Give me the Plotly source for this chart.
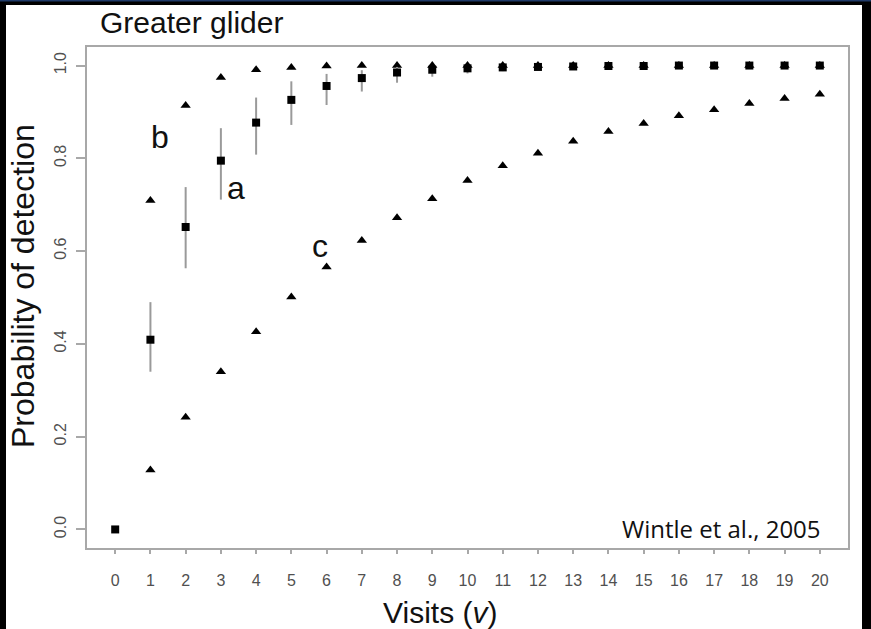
import plotly.graph_objects as go

visits = list(range(0, 21))
visits_tri = list(range(1, 21))

# series a (squares, with interval)
prob_a = [0.0, 0.409, 0.652, 0.795, 0.877, 0.926, 0.956, 0.973, 0.985, 0.991, 0.994,
          0.996, 0.997, 0.998, 0.999, 0.999, 1.0, 1.0, 1.0, 1.0, 1.0]
upper_a = [0.0, 0.490, 0.738, 0.865, 0.931, 0.966, 0.982, 0.990, 0.997, 0.999, 1.0,
           1.0, 1.0, 1.0, 1.0, 1.0, 1.0, 1.0, 1.0, 1.0, 1.0]
lower_a = [0.0, 0.340, 0.563, 0.711, 0.808, 0.872, 0.915, 0.944, 0.963, 0.976, 0.983,
           0.988, 0.992, 0.994, 0.996, 0.997, 0.998, 0.999, 0.999, 1.0, 1.0]
# series b (upper triangles)
prob_b = [0.709, 0.914, 0.974, 0.991, 0.996, 0.999, 1.0, 1.0, 1.0, 1.0,
          1.0, 1.0, 1.0, 1.0, 1.0, 1.0, 1.0, 1.0, 1.0, 1.0]
# series c (lower triangles)
prob_c = [0.128, 0.242, 0.340, 0.426, 0.501, 0.566, 0.623, 0.672, 0.713, 0.752,
          0.784, 0.811, 0.837, 0.858, 0.875, 0.892, 0.905, 0.918, 0.929, 0.938]

x_ticks = list(range(0, 21))
y_ticks = [0.0, 0.2, 0.4, 0.6, 0.8, 1.0]
y_tick_labels = ["0.0", "0.2", "0.4", "0.6", "0.8", "1.0"]

err_plus = [u - p for u, p in zip(upper_a, prob_a)]
err_minus = [p - l for p, l in zip(prob_a, lower_a)]

fig = go.Figure()
fig.add_trace(go.Scatter(
    x=visits_tri, y=prob_b, mode="markers",
    marker=dict(symbol="triangle-up", size=9, color="black"),
    showlegend=False))
fig.add_trace(go.Scatter(
    x=visits_tri, y=prob_c, mode="markers",
    marker=dict(symbol="triangle-up", size=9, color="black"),
    showlegend=False))
fig.add_trace(go.Scatter(
    x=visits, y=prob_a, mode="markers",
    marker=dict(symbol="square", size=8, color="black"),
    error_y=dict(type="data", symmetric=False, array=err_plus, arrayminus=err_minus,
                 color="#9a9a9a", thickness=2, width=0),
    showlegend=False))

FONT = "Liberation Sans, Arial, sans-serif"

# page geometry helpers (paper coords)
L, R, T, B = 87, 23, 47, 81
W, H = 871, 629
PW, PH = W - L - R, H - T - B


def px(xpix):
    return (xpix - L) / PW


def py(ypix):
    return (H - B - ypix) / PH


shapes = [
    dict(type="rect", xref="paper", yref="paper", layer="below",
         x0=px(6), x1=px(862), y0=py(640), y1=py(5),
         fillcolor="white", line=dict(width=0)),
    dict(type="rect", xref="paper", yref="paper", layer="below",
         x0=px(-5), x1=px(880), y0=py(1.5), y1=py(-5),
         fillcolor="#1f3a68", line=dict(width=0)),
]

annotations = [
    dict(text="Greater glider", xref="paper", yref="paper", x=px(98), y=py(22),
         xanchor="left", yanchor="middle", showarrow=False,
         font=dict(family=FONT, size=30, color="#111111")),
    dict(text="Probability of detection", xref="paper", yref="paper", x=px(23), y=py(286),
         xanchor="center", yanchor="middle", textangle=-90, showarrow=False,
         font=dict(family=FONT, size=32, color="#111111")),
    dict(text="Visits (<i>v</i>)", xref="paper", yref="paper", x=px(440), y=py(612),
         xanchor="center", yanchor="middle", showarrow=False,
         font=dict(family=FONT, size=30, color="#111111")),
    dict(text="Wintle et al., 2005", xref="paper", yref="paper", x=px(823), y=py(528),
         xanchor="right", yanchor="middle", showarrow=False,
         font=dict(family="Open Sans, sans-serif", size=24, color="#111111")),
    dict(text="a", x=3.44, y=0.735, xref="x", yref="y", showarrow=False,
         font=dict(family=FONT, size=32, color="#111111")),
    dict(text="b", x=1.27, y=0.845, xref="x", yref="y", showarrow=False,
         font=dict(family=FONT, size=32, color="#111111")),
    dict(text="c", x=5.81, y=0.61, xref="x", yref="y", showarrow=False,
         font=dict(family=FONT, size=32, color="#111111")),
]

fig.update_layout(
    width=W, height=H,
    margin=dict(l=L, r=R, t=T, b=B, pad=0),
    paper_bgcolor="black", plot_bgcolor="white",
    shapes=shapes, annotations=annotations,
    showlegend=False,
)
fig.update_xaxes(
    range=[-0.8, 20.8], tickmode="array", tickvals=x_ticks,
    ticktext=[str(v) for v in x_ticks],
    showgrid=False, zeroline=False,
    showline=True, linecolor="#a8a8a8", linewidth=2, mirror=True,
    ticks="outside", ticklen=4, tickwidth=1.5, tickcolor="#a8a8a8",
    ticklabelstandoff=13,
    tickfont=dict(family=FONT, size=16, color="#505050"),
)
fig.update_yaxes(
    range=[-0.04, 1.04], tickmode="array", tickvals=y_ticks, ticktext=y_tick_labels,
    showgrid=False, zeroline=False,
    showline=True, linecolor="#a8a8a8", linewidth=2, mirror=True,
    ticks="outside", ticklen=9, tickwidth=1.5, tickcolor="#a8a8a8",
    tickangle=-90, ticklabelstandoff=4,
    tickfont=dict(family=FONT, size=16, color="#505050"),
)

fig.write_html("out.html")
